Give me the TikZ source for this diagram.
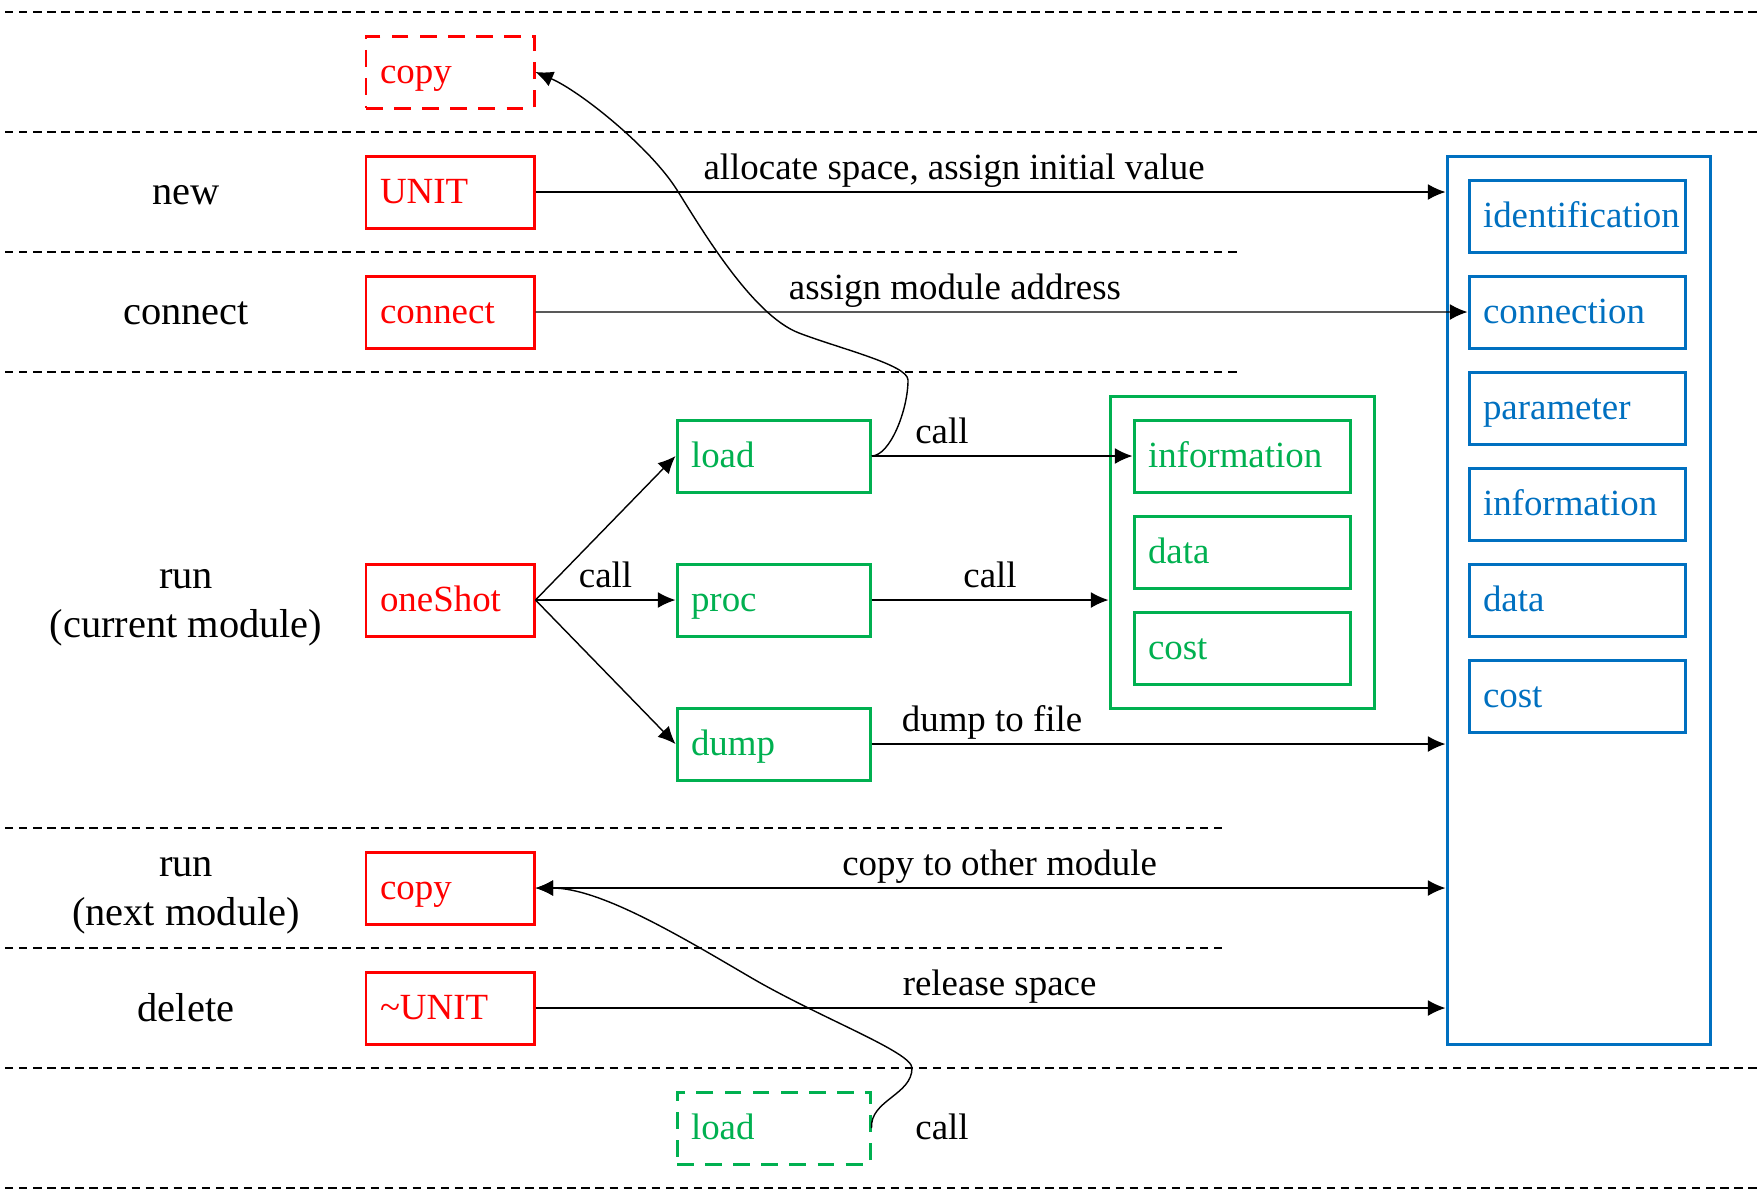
\documentclass[tikz,border=0pt]{standalone}
\usepackage{fontspec}
\setmainfont{Liberation Serif}
\usetikzlibrary{arrows.meta,positioning}
\definecolor{cred}{RGB}{255,0,0}
\definecolor{cgreen}{RGB}{0,176,80}
\definecolor{cblue}{RGB}{0,112,192}

\tikzset{
  box/.style={draw, line width=0.85pt, minimum height=0.72cm, inner xsep=0.14cm,
    text height=0.88em, text depth=0.22em,
    align=left, font=\fontsize{10.5}{12}\selectfont},
  redbox/.style={box, draw=cred, text=cred, text width=1.40cm},
  greenbox/.style={box, draw=cgreen, text=cgreen, text width=1.65cm},
  ginner/.style={box, draw=cgreen, text=cgreen, text width=1.88cm},
  bluebox/.style={box, draw=cblue, text=cblue, text width=1.88cm},
  frame/.style={draw, line width=0.85pt, inner sep=0pt},
  dashbox/.style={dash pattern=on 4.8pt off 3.2pt},
  sep/.style={line width=0.4pt, dash pattern=on 2.4pt off 1.6pt},
  phase/.style={font=\fontsize{11.5}{14}\selectfont, align=center},
  lbl/.style={font=\fontsize{10.5}{12}\selectfont, text depth=0pt},
  arr/.style={line width=0.4pt, -{Latex[length=5pt,width=4.5pt]}},
  arrtwo/.style={line width=0.4pt, {Latex[length=5pt,width=4.5pt]}-{Latex[length=5pt,width=4.5pt]}}
}

\begin{document}
\begin{tikzpicture}
\useasboundingbox (0,0) rectangle (17.64,-12);

% row separators
\foreach \y in {-0.12,-1.32,-10.68,-11.88}
  \draw[sep] (0.05,\y) -- (17.57,\y);
\foreach \y in {-2.52,-3.72}
  \draw[sep] (0.05,\y) -- (12.38,\y);
\foreach \y in {-8.28,-9.48}
  \draw[sep] (0.05,\y) -- (12.24,\y);

% phase labels
\node[phase] (lnew) at (1.86,-1.95) {new};
\node[phase] (lconn) at (1.86,-3.13) {connect};
\node[phase] (lrun) at (1.86,-6.08) {run\\(current module)};
\node[phase] (lnext) at (1.86,-8.96) {run\\(next module)};
\node[phase] (ldel) at (1.86,-10.08) {delete};

% unit functions
\node[redbox, dashbox] (copyA) at (4.5,-0.72) {copy};
\node[redbox] (unit) at (4.5,-1.92) {UNIT};
\node[redbox] (conn) at (4.5,-3.12) {connect};
\node[redbox] (shot) at (4.5,-6.00) {oneShot};
\node[redbox] (copyB) at (4.5,-8.88) {copy};
\node[redbox] (del) at (4.5,-10.08) {\textasciitilde UNIT};

% steps of oneShot
\node[greenbox] (load) at (7.735,-4.56) {load};
\node[greenbox] (proc) at (7.735,-6.00) {proc};
\node[greenbox] (dump) at (7.735,-7.44) {dump};
\node[greenbox, dashbox] (loadB) at (7.735,-11.28) {load};

% module state
\node[frame, draw=cgreen, minimum width=2.64cm, minimum height=3.12cm] (gmod) at (12.42,-5.52) {};
\node[ginner] (ginf) at (12.42,-4.56) {information};
\node[ginner] (gdat) at (12.42,-5.52) {data};
\node[ginner] (gcost) at (12.42,-6.48) {cost};

% unit memory
\node[frame, draw=cblue, minimum width=2.63cm, minimum height=8.88cm] (bmod) at (15.785,-6.00) {};
\foreach \name/\txt [count=\k from 0] in {bid/identification, bcon/connection, bpar/parameter,
    binf/information, bdat/data, bcost/cost}
  \node[bluebox] (\name) at (15.77,-2.16-0.96*\k) {\txt};

% arrows
\draw[arr] (unit.east) -- (unit.east -| bmod.west) node[lbl, above, pos=0.46] {allocate space, assign initial value};
\draw[arr] (conn.east) -- (bcon.west) node[lbl, above, pos=0.45] {assign module address};
\draw[arr] (shot.east) -- (load.west);
\draw[arr] (shot.east) -- (proc.west) node[lbl, above, midway] {call};
\draw[arr] (shot.east) -- (dump.west);
\draw[arr] (load.east) -- (ginf.west) node[lbl, above, pos=0.27] {call};
\draw[arr] (proc.east) -- (proc.east -| gmod.west) node[lbl, above, midway] {call};
\draw[arr] (dump.east) -- (dump.east -| bmod.west) node[lbl, above, pos=0.21] {dump to file};
\draw[arrtwo] (copyB.east) -- (copyB.east -| bmod.west) node[lbl, above, pos=0.51] {copy to other module};
\draw[arr] (del.east) -- (del.east -| bmod.west) node[lbl, above, pos=0.51] {release space};

% calls into the neighbouring rows
\draw[arr] (load.east) .. controls (8.90,-4.56) and (9.08,-4.10) .. (9.08,-3.80)
  .. controls (9.08,-3.65) and (8.41,-3.49) .. (7.99,-3.33)
  .. controls (7.52,-3.15) and (7.01,-2.28) .. (6.77,-1.90)
  .. controls (6.505,-1.476) and (5.80,-0.91) .. (copyA.east);
\draw[arr] (loadB.east) .. controls (8.70,-11.00) and (9.12,-10.95) .. (9.12,-10.68)
  .. controls (9.12,-10.52) and (8.20,-10.18) .. (7.50,-9.77)
  .. controls (6.80,-9.36) and (6.00,-8.88) .. (copyB.east);
\node[lbl] (callB) at (9.42,-11.27) {call};

\end{tikzpicture}
\end{document}
